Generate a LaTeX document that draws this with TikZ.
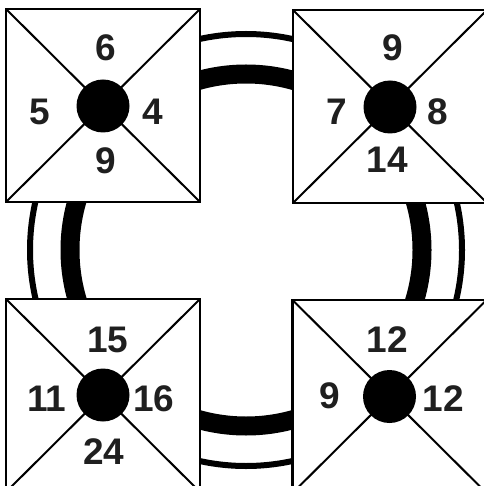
\documentclass[tikz,border=0pt]{standalone}
\usepackage{fontspec}
\setmainfont{Liberation Sans}
\begin{document}
\begin{tikzpicture}[x=1pt,y=-1pt,
  sq/.style={draw=black,fill=white,line width=2.6pt,minimum width=194pt,minimum height=193pt,inner sep=0pt,outer sep=0pt},
  dot/.style={circle,fill=black,minimum size=53pt,inner sep=0pt},
  num/.style={text=black!88,font=\fontsize{37}{37}\selectfont\bfseries,inner sep=0pt},
  diag/.style={line width=2pt}]
\useasboundingbox (0,0) rectangle (483,486);
% ring
\draw[line width=6pt] (246,250) circle[radius=216];
\draw[line width=19pt] (246,250) circle[radius=176];
% squares
\node[sq] (tl) at (103,105.5) {};
\node[sq] (tr) at (390,106.5) {};
\node[sq] (bl) at (103,395.5) {};
\node[sq] (br) at (389.5,396.5) {};
\foreach \s in {tl,tr,bl,br}{
  \draw[diag] (\s.north west) -- (\s.south east);
  \draw[diag] (\s.north east) -- (\s.south west);
}
\node[dot] (ctl) at (103,106) {};
\node[dot] (ctr) at (390,107) {};
\node[dot] (cbl) at (103,395) {};
\node[dot] (cbr) at (389.5,396.5) {};
% numbers
\node[num] (tl1) at (106,48) {6};
\node[num] (tl2) at (40,112) {5};
\node[num] (tl3) at (153,112) {4};
\node[num] (tl4) at (106,161) {9};
\node[num] (tr1) at (393,48) {9};
\node[num] (tr2) at (337,112) {7};
\node[num] (tr3) at (438,112) {8};
\node[num] (tr4) at (387,160) {14};
\node[num] (bl1) at (108,340) {15};
\node[num] (bl2) at (47,399) {11};
\node[num] (bl3) at (154,399) {16};
\node[num] (bl4) at (104,452) {24};
\node[num] (br1) at (387,340) {12};
\node[num] (br2) at (330,396) {9};
\node[num] (br3) at (443,399) {12};
\end{tikzpicture}
\end{document}
